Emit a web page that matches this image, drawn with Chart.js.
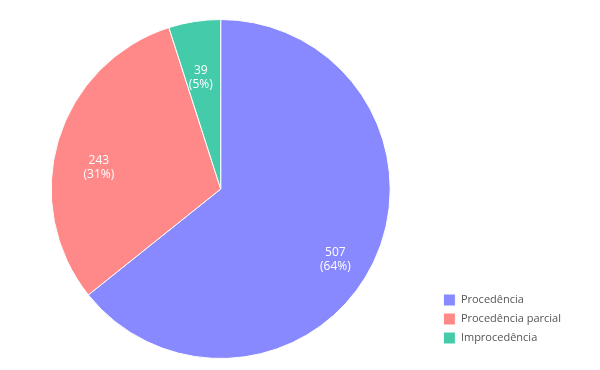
<!DOCTYPE html>
<html>
<head>
<meta charset="utf-8">
<script src="https://cdn.jsdelivr.net/npm/chart.js@4"></script>
<style>
  html, body { margin: 0; padding: 0; background: #fff; }
  #wrap { width: 600px; height: 370px; }
</style>
</head>
<body>
<div id="wrap"><canvas id="myChart" width="600" height="370"></canvas></div>
<script>
// chart data
const categories = ["Procedência", "Procedência parcial", "Improcedência"];
const counts = [507, 243, 39];
const sliceColors = ["#8888ff", "#ff8888", "#44ccaa"];
// inside label placement per slice: fraction of radius, angle nudge in degrees
const labelRadius = [0.795, 0.73, 0.67];
const labelNudge = [6, -6.6, -1.2];

// draws "value (pct%)" inside each slice
const sliceLabels = {
    id: 'sliceLabels',
    afterLayout: function (chart) {
        // lift the legend a little off the bottom edge
        chart.legend.bottom -= 8;
    },
    afterDatasetsDraw: function (chart) {
        const ctx = chart.ctx;
        const meta = chart.getDatasetMeta(0);
        const total = counts.reduce(function (a, b) { return a + b; }, 0);
        ctx.save();
        ctx.fillStyle = '#ffffff';
        ctx.font = '12px "Open Sans", sans-serif';
        ctx.textAlign = 'center';
        ctx.textBaseline = 'middle';
        meta.data.forEach(function (arc, i) {
            const mid = (arc.startAngle + arc.endAngle) / 2 + labelNudge[i] * Math.PI / 180;
            const r = arc.outerRadius * labelRadius[i];
            const x = arc.x + Math.cos(mid) * r;
            const y = arc.y + Math.sin(mid) * r;
            const pct = Math.round(counts[i] / total * 100);
            ctx.fillText(String(counts[i]), x, y - 7);
            ctx.fillText('(' + pct + '%)', x, y + 7);
        });
        ctx.restore();
    }
};

const config = {
    type: 'pie',
    data: {
        labels: categories,
        datasets: [{
            data: counts,
            backgroundColor: sliceColors,
            borderColor: '#ffffff',
            borderWidth: 1
        }]
    },
    options: {
        responsive: false,
        animation: false,
        layout: {
            padding: { left: 5, right: 29, top: 19, bottom: 11 }
        },
        plugins: {
            tooltip: { enabled: false },
            legend: {
                position: 'right',
                align: 'end',
                labels: {
                    boxWidth: 12,
                    boxHeight: 12,
                    padding: 7,
                    color: '#555555',
                    font: { family: '"Open Sans", sans-serif', size: 11 }
                }
            }
        }
    },
    plugins: [sliceLabels]
};

new Chart(document.getElementById('myChart'), config);
</script>
</body>
</html>
